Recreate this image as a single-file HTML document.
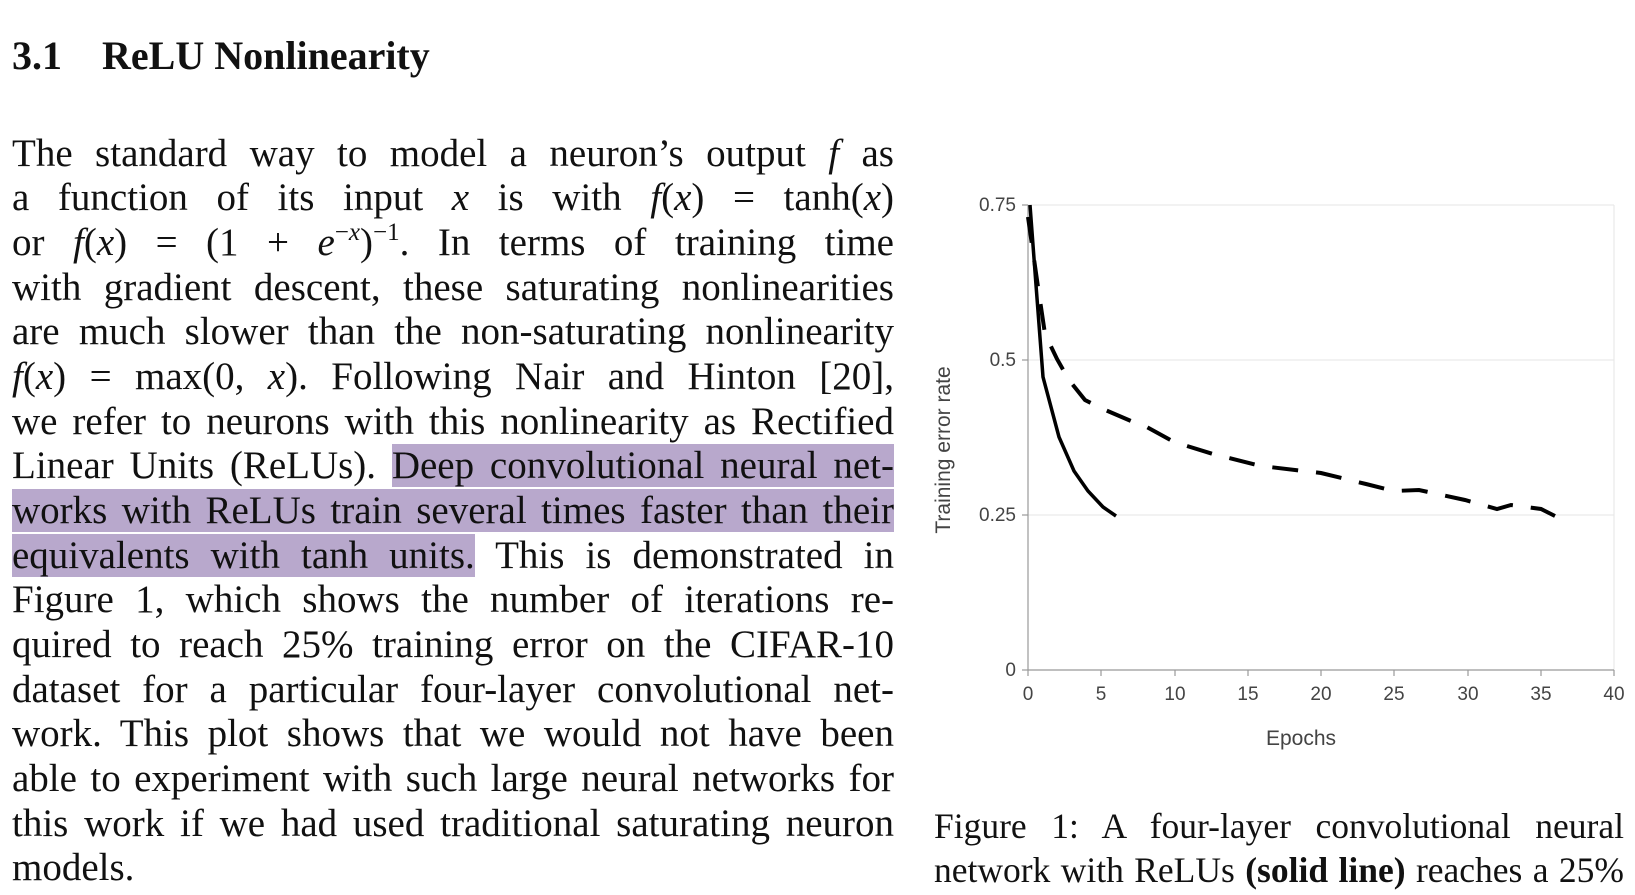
<!DOCTYPE html>
<html><head><meta charset="utf-8"><style>
body{margin:0;width:1635px;height:895px;background:#fff;position:relative;overflow:hidden;font-family:"Liberation Serif",serif;color:#111}
.h{position:absolute;left:12px;top:32px;font-size:40px;font-weight:bold;white-space:nowrap}
.l{position:absolute;left:12px;width:882px;font-size:39px;line-height:44px;height:44px;text-align:justify;text-align-last:justify;white-space:nowrap}
.c{position:absolute;left:934px;width:690px;font-size:35.5px;line-height:44px;text-align:justify;text-align-last:justify;white-space:nowrap}
.hl{background:#b8a8cc}
i{font-style:italic}
sup{font-size:25px;line-height:0;vertical-align:0;position:relative;top:-15px}
</style></head><body>
<div class="h">3.1<span style="margin-left:40px">ReLU Nonlinearity</span></div>
<div class="l" style="top:132px">The standard way to model a neuron’s output <i>f</i> as</div>
<div class="l" style="top:176px">a function of its input <i>x</i> is with <i>f</i>(<i>x</i>) = tanh(<i>x</i>)</div>
<div class="l" style="top:221px">or <i>f</i>(<i>x</i>) = (1 + <i>e</i><sup>−<i>x</i></sup>)<sup>−1</sup>. In terms of training time</div>
<div class="l" style="top:266px">with gradient descent, these saturating nonlinearities</div>
<div class="l" style="top:310px">are much slower than the non-saturating nonlinearity</div>
<div class="l" style="top:355px"><i>f</i>(<i>x</i>) = max(0, <i>x</i>). Following Nair and Hinton [20],</div>
<div class="l" style="top:400px">we refer to neurons with this nonlinearity as Rectified</div>
<div class="l" style="top:444px">Linear Units (ReLUs). <span class="hl">Deep convolutional neural net-</span></div>
<div class="l" style="top:489px"><span class="hl">works with ReLUs train several times faster than their</span></div>
<div class="l" style="top:534px"><span class="hl">equivalents with tanh units.</span> This is demonstrated in</div>
<div class="l" style="top:578px">Figure 1, which shows the number of iterations re-</div>
<div class="l" style="top:623px">quired to reach 25% training error on the CIFAR-10</div>
<div class="l" style="top:668px">dataset for a particular four-layer convolutional net-</div>
<div class="l" style="top:712px">work. This plot shows that we would not have been</div>
<div class="l" style="top:757px">able to experiment with such large neural networks for</div>
<div class="l" style="top:802px">this work if we had used traditional saturating neuron</div>
<div class="l" style="top:846px;text-align-last:left">models.</div>
<div class="c" style="top:804px">Figure 1: A four-layer convolutional neural</div>
<div class="c" style="top:848px">network with ReLUs <b>(solid line)</b> reaches a 25%</div>
<svg style="position:absolute;left:0;top:0" width="1635" height="895" font-family="Liberation Sans, sans-serif">
<g stroke="#e6e6e6" stroke-width="1"><line x1="1028" y1="205" x2="1614" y2="205"/><line x1="1028" y1="360" x2="1614" y2="360"/><line x1="1028" y1="515" x2="1614" y2="515"/><line x1="1614" y1="205" x2="1614" y2="670"/></g>
<g stroke="#999" stroke-width="1.2"><line x1="1028" y1="205" x2="1028" y2="670"/><line x1="1028" y1="670" x2="1614" y2="670"/>
<line x1="1022" y1="205" x2="1028" y2="205"/><line x1="1022" y1="360" x2="1028" y2="360"/><line x1="1022" y1="515" x2="1028" y2="515"/><line x1="1022" y1="670" x2="1028" y2="670"/>
<line x1="1028" y1="670" x2="1028" y2="676"/><line x1="1101" y1="670" x2="1101" y2="676"/><line x1="1175" y1="670" x2="1175" y2="676"/><line x1="1248" y1="670" x2="1248" y2="676"/><line x1="1321" y1="670" x2="1321" y2="676"/><line x1="1394" y1="670" x2="1394" y2="676"/><line x1="1468" y1="670" x2="1468" y2="676"/><line x1="1541" y1="670" x2="1541" y2="676"/><line x1="1614" y1="670" x2="1614" y2="676"/></g>
<g fill="#444" font-size="19" text-anchor="end"><text x="1016" y="211">0.75</text><text x="1016" y="366">0.5</text><text x="1016" y="521">0.25</text><text x="1016" y="676">0</text></g>
<g fill="#444" font-size="19" text-anchor="middle"><text x="1028" y="700">0</text><text x="1101" y="700">5</text><text x="1175" y="700">10</text><text x="1248" y="700">15</text><text x="1321" y="700">20</text><text x="1394" y="700">25</text><text x="1468" y="700">30</text><text x="1541" y="700">35</text><text x="1614" y="700">40</text></g>
<text x="1301" y="745" fill="#444" font-size="21" text-anchor="middle">Epochs</text>
<text transform="translate(950,450) rotate(-90)" fill="#444" font-size="21" text-anchor="middle">Training error rate</text>
<polyline fill="none" stroke="#000" stroke-width="3.5" points="1030,205 1036,285 1043,377 1059,437 1074,471 1088,491 1103,507 1116,516"/>
<polyline fill="none" stroke="#000" stroke-width="4" stroke-dasharray="26,18" points="1028,217 1038,287 1045,334 1057,359 1069,380 1085,400 1103,409 1131,421 1145,426 1174,442 1213,454 1261,466 1321,473 1366,484 1394,491 1419,490 1465,500 1497,509 1511,505 1541,509 1555,516"/>
</svg>
</body></html>
